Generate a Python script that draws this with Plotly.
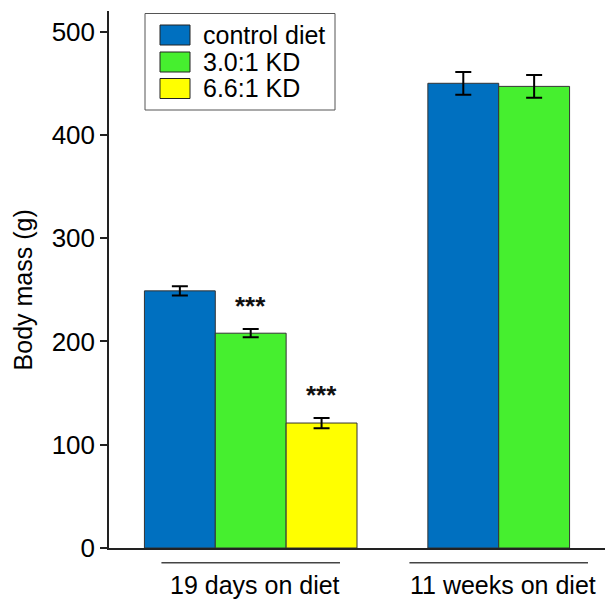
import plotly.graph_objects as go

groups = ["19 days on diet", "11 weeks on diet"]
series_names = ["control diet", "3.0:1 KD", "6.6:1 KD"]
control_vals = [249, 450]
control_err = [4.5, 11]
kd30_vals = [208, 447]
kd30_err = [4, 11]
kd66_vals = [121]
kd66_err = [5]
colors = ["#0070C0", "#46EF2F", "#FFFF00"]
y_ticks = [0, 100, 200, 300, 400, 500]
stars = "***"

FONT = "Liberation Sans, Arial, Helvetica, sans-serif"
FS = 25

fig = go.Figure()
data = [
    (groups, control_vals, control_err),
    (groups, kd30_vals, kd30_err),
    (groups[:1], kd66_vals, kd66_err),
]
for name, color, (xs, ys, es) in zip(series_names, colors, data):
    fig.add_trace(go.Bar(
        x=xs, y=ys, name=name, showlegend=False,
        marker=dict(color=color, line=dict(color="#333333", width=1)),
        error_y=dict(type="data", array=es, color="black", thickness=2, width=8),
    ))

# significance stars above the KD bars of the first group (bar width = 0.25 category units)
bw = 0.25
for off, v, e in [(0.0, kd30_vals[0], kd30_err[0]), (bw, kd66_vals[0], kd66_err[0])]:
    fig.add_annotation(x=off, y=v + e, xref="x", yref="y", text="<b>" + stars + "</b>",
                       showarrow=False, yanchor="middle", yshift=23,
                       font=dict(family=FONT, size=26, color="#111111"))

# group labels and bracket lines under the x axis
group_centers = [0.0, 1 - bw / 2]
for gc, label in zip(group_centers, groups):
    fig.add_shape(type="line", xref="x", yref="paper", x0=gc - 0.315, x1=gc + 0.315,
                  y0=-0.0275, y1=-0.0275, line=dict(color="#444444", width=1.5))
    fig.add_annotation(x=gc, y=-0.069, xref="x", yref="paper", text=label, showarrow=False,
                       xshift=4, yanchor="middle",
                       font=dict(family=FONT, size=FS, color="black"))

# y-axis title
fig.add_annotation(x=-0.173, y=0.48, xref="paper", yref="paper", text="Body mass (g)",
                   textangle=-90, showarrow=False, xanchor="center", yanchor="middle",
                   font=dict(family=FONT, size=FS, color="black"))

# custom legend
def px_x(p):
    return (p - 109) / 496

def px_y(p):
    return (548 - p) / 537

fig.add_shape(type="rect", xref="paper", yref="paper", x0=px_x(145), x1=px_x(335),
              y0=px_y(110), y1=px_y(13.5), line=dict(color="#555555", width=1),
              fillcolor="white")
row_centers = [35, 62, 88.5]
for name, color, rc in zip(series_names, colors, row_centers):
    fig.add_shape(type="rect", xref="paper", yref="paper", x0=px_x(160), x1=px_x(190),
                  y0=px_y(rc + 10), y1=px_y(rc - 10), line=dict(color="#222222", width=1),
                  fillcolor=color)
    fig.add_annotation(x=px_x(201), y=px_y(rc), xref="paper", yref="paper", text=name,
                       showarrow=False, xanchor="left", yanchor="middle",
                       font=dict(family=FONT, size=FS, color="black"))

fig.update_layout(
    width=607, height=601,
    margin=dict(l=101, r=10, t=3, b=61, autoexpand=False),
    paper_bgcolor="white", plot_bgcolor="white",
    barmode="group", bargap=0.25, bargroupgap=0,
    font=dict(family=FONT, size=FS, color="black"),
    xaxis=dict(type="category", range=[-0.5, 1.25], showticklabels=False, ticks="",
               showline=True, linecolor="#222222", linewidth=1.5, showgrid=False,
               zeroline=False),
    yaxis=dict(range=[0, 520], tickvals=y_ticks, ticks="outside", ticklen=7, tickwidth=1.5,
               tickcolor="#222222", showline=True, linecolor="#222222", linewidth=1.5,
               showgrid=False, zeroline=False, tickfont=dict(size=26, color="black")),
)

fig.write_html("out.html")
